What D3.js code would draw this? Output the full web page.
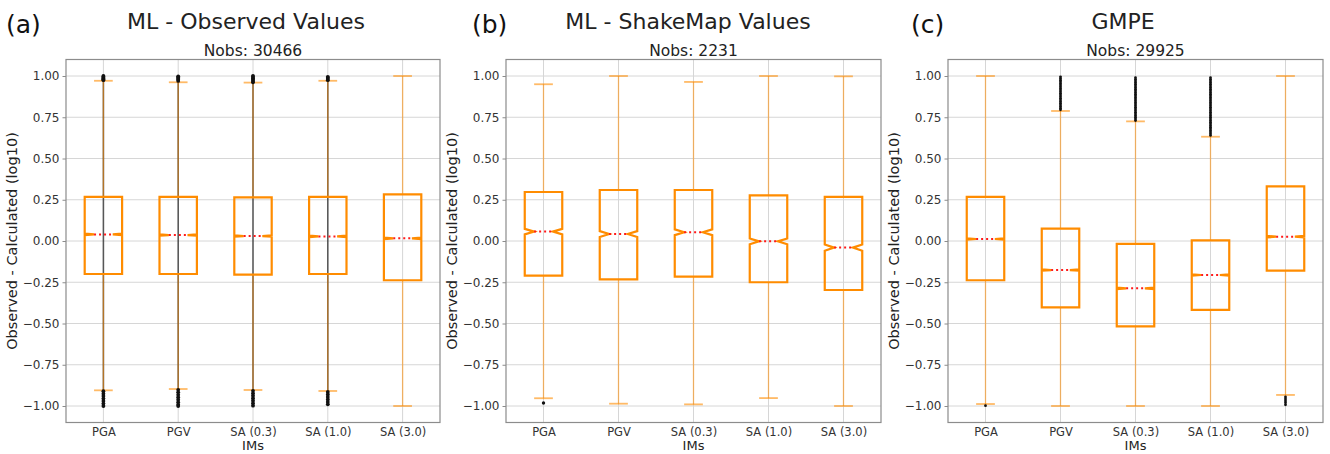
<!DOCTYPE html>
<html>
<head>
<meta charset="utf-8">
<script src="https://cdn.jsdelivr.net/npm/d3@7"></script>
<style>
  html, body { margin: 0; padding: 0; background: #fff; }
  svg { display: block; font-family: "DejaVu Sans", sans-serif; }
</style>
</head>
<body>
<svg id="chart" width="1330" height="454"></svg>
<script>
// Intensity measures on the x axis and y tick values
const categories = ["PGA", "PGV", "SA (0.3)", "SA (1.0)", "SA (3.0)"];
const yTicks = [-1.00, -0.75, -0.50, -0.25, 0.00, 0.25, 0.50, 0.75, 1.00];

// (a) ML - Observed Values
const obsN = 30466;
const obsQ1 = [-0.200, -0.200, -0.204, -0.200, -0.238];
const obsMed = [0.040, 0.036, 0.030, 0.028, 0.016];
const obsQ3 = [0.268, 0.268, 0.265, 0.268, 0.283];
const obsWhiskLo = [-0.905, -0.897, -0.903, -0.909, -1.000];
const obsWhiskHi = [0.971, 0.962, 0.960, 0.971, 1.000];
const obsFliers = [
  [0.975, 0.980, 0.985, 0.990, 0.995, 1.000, -0.910, -0.925, -0.940, -0.955, -0.970, -0.985, -1.000],
  [0.970, 0.977, 0.984, 0.991, 0.998, -0.902, -0.917, -0.932, -0.947, -0.962, -0.977, -0.992, -1.000],
  [0.962, 0.970, 0.978, 0.986, 0.994, 1.000, -0.908, -0.923, -0.938, -0.953, -0.968, -0.983, -0.998],
  [0.975, 0.982, 0.989, 0.995, -0.915, -0.930, -0.945, -0.960, -0.975, -0.990],
  []
];
// full spread of the individual residuals (dark trace behind the boxes)
const obsSpanLo = [-1.000, -1.000, -1.000, -0.990, null];
const obsSpanHi = [1.000, 1.000, 1.000, 0.995, null];

// (b) ML - ShakeMap Values
const smN = 2231;
const smQ1 = [-0.210, -0.232, -0.216, -0.250, -0.297];
const smMed = [0.057, 0.042, 0.053, -0.002, -0.040];
const smQ3 = [0.297, 0.309, 0.309, 0.277, 0.267];
const smWhiskLo = [-0.953, -0.986, -0.990, -0.952, -1.000];
const smWhiskHi = [0.950, 1.000, 0.964, 1.000, 0.998];
const smFliers = [[-0.982], [], [], [], []];

// (c) GMPE
const gmN = 29925;
const gmQ1 = [-0.238, -0.402, -0.517, -0.418, -0.180];
const gmMed = [0.012, -0.176, -0.287, -0.206, 0.026];
const gmQ3 = [0.267, 0.075, -0.018, 0.004, 0.331];
const gmWhiskLo = [-0.988, -1.000, -1.000, -1.000, -0.933];
const gmWhiskHi = [1.000, 0.788, 0.725, 0.632, 1.000];
const gmFliers = [
  [-0.998],
  [0.795, 0.805, 0.815, 0.825, 0.835, 0.845, 0.855, 0.865, 0.875, 0.885, 0.895, 0.905,
   0.915, 0.925, 0.935, 0.945, 0.955, 0.965, 0.975, 0.985, 0.995],
  [0.730, 0.740, 0.750, 0.760, 0.770, 0.780, 0.790, 0.800, 0.810, 0.820, 0.830, 0.840,
   0.850, 0.860, 0.870, 0.880, 0.890, 0.900, 0.910, 0.920, 0.930, 0.940, 0.950, 0.960,
   0.970, 0.980, 0.990],
  [0.640, 0.650, 0.660, 0.670, 0.680, 0.690, 0.700, 0.710, 0.720, 0.730, 0.740, 0.750,
   0.760, 0.770, 0.780, 0.790, 0.800, 0.810, 0.820, 0.830, 0.840, 0.850, 0.860, 0.870,
   0.880, 0.890, 0.900, 0.910, 0.920, 0.930, 0.940, 0.950, 0.960, 0.970, 0.980, 0.990],
  [-0.945, -0.957, -0.969, -0.981, -0.993]
];

const panels = [
  { tag: "(a)", title: "ML - Observed Values", n: obsN, q1: obsQ1, med: obsMed, q3: obsQ3,
    lo: obsWhiskLo, hi: obsWhiskHi, fliers: obsFliers, spanLo: obsSpanLo, spanHi: obsSpanHi,
    left: 66, right: 440, tagX: 6, titleX: 246, dot: 1.9 },
  { tag: "(b)", title: "ML - ShakeMap Values", n: smN, q1: smQ1, med: smMed, q3: smQ3,
    lo: smWhiskLo, hi: smWhiskHi, fliers: smFliers, spanLo: null, spanHi: null,
    left: 506, right: 881, tagX: 472, titleX: 688, dot: 1.7 },
  { tag: "(c)", title: "GMPE", n: gmN, q1: gmQ1, med: gmMed, q3: gmQ3,
    lo: gmWhiskLo, hi: gmWhiskHi, fliers: gmFliers, spanLo: null, spanHi: null,
    left: 948, right: 1323, tagX: 911, titleX: 1123, dot: 1.4 }
];

const plotTop = 59.5, plotBottom = 422.5;
const boxColor = "#ff8c00";
const svg = d3.select("#chart");

panels.forEach(p => {
  const W = p.right - p.left, H = plotBottom - plotTop;
  const x = d3.scalePoint().domain(categories).range([0, W]).padding(0.5);
  const y = d3.scaleLinear().domain([-1.1, 1.1]).range([H, 0]);
  const step = x.step();
  const bw = step * 0.5;       // box width
  const cw = bw * 0.5;         // cap width

  // panel label, title and observation count
  svg.append("text").attr("x", p.tagX).attr("y", 33)
    .attr("font-size", 25).attr("fill", "#111").text(p.tag);
  svg.append("text").attr("x", p.titleX).attr("y", 29).attr("text-anchor", "middle")
    .attr("font-size", 22).attr("fill", "#222").text(p.title);
  svg.append("text").attr("x", (p.left + p.right) / 2).attr("y", 56).attr("text-anchor", "middle")
    .attr("font-size", 15.5).attr("fill", "#222").text("Nobs: " + p.n);

  const g = svg.append("g").attr("transform", `translate(${p.left},${plotTop})`);

  // grid
  g.append("g").selectAll("line").data(yTicks).join("line")
    .attr("x1", 0).attr("x2", W).attr("y1", d => y(d)).attr("y2", d => y(d))
    .attr("stroke", "#d6d6d6").attr("stroke-width", 1);
  g.append("g").selectAll("line").data(categories).join("line")
    .attr("x1", d => x(d)).attr("x2", d => x(d)).attr("y1", 0).attr("y2", H)
    .attr("stroke", "#d6d6d6").attr("stroke-width", 1);

  const items = categories.map((c, i) => ({
    c, q1: p.q1[i], med: p.med[i], q3: p.q3[i], lo: p.lo[i], hi: p.hi[i],
    fl: p.fliers[i],
    sLo: p.spanLo ? p.spanLo[i] : null, sHi: p.spanHi ? p.spanHi[i] : null
  }));

  // dark trace of individual residuals
  g.append("g").selectAll("line").data(items.filter(d => d.sLo !== null)).join("line")
    .attr("x1", d => x(d.c)).attr("x2", d => x(d.c))
    .attr("y1", d => y(d.sLo)).attr("y2", d => y(d.sHi))
    .attr("stroke", "#000").attr("stroke-opacity", 0.6).attr("stroke-width", 1.6);

  // whiskers
  const wg = g.append("g").attr("stroke", boxColor).attr("stroke-opacity", 0.55).attr("stroke-width", 1.3);
  wg.selectAll(".wl").data(items).join("line").attr("class", "wl")
    .attr("x1", d => x(d.c)).attr("x2", d => x(d.c)).attr("y1", d => y(d.q1)).attr("y2", d => y(d.lo));
  wg.selectAll(".wh").data(items).join("line").attr("class", "wh")
    .attr("x1", d => x(d.c)).attr("x2", d => x(d.c)).attr("y1", d => y(d.q3)).attr("y2", d => y(d.hi));
  // caps
  const cg = g.append("g").attr("stroke", boxColor).attr("stroke-opacity", 0.6).attr("stroke-width", 1.8);
  cg.selectAll(".cl").data(items).join("line").attr("class", "cl")
    .attr("x1", d => x(d.c) - cw / 2).attr("x2", d => x(d.c) + cw / 2)
    .attr("y1", d => y(d.lo)).attr("y2", d => y(d.lo));
  cg.selectAll(".ch").data(items).join("line").attr("class", "ch")
    .attr("x1", d => x(d.c) - cw / 2).attr("x2", d => x(d.c) + cw / 2)
    .attr("y1", d => y(d.hi)).attr("y2", d => y(d.hi));

  // notched boxes (notch = median ± 1.57·IQR/√n)
  const notch = d => 1.57 * (d.q3 - d.q1) / Math.sqrt(p.n);
  g.append("g").selectAll("path").data(items).join("path")
    .attr("d", d => {
      const cx = x(d.c), l = cx - bw / 2, r = cx + bw / 2, nl = cx - bw / 4, nr = cx + bw / 4;
      const nk = notch(d);
      return `M${l},${y(d.q1)}L${l},${y(d.med - nk)}L${nl},${y(d.med)}L${l},${y(d.med + nk)}` +
             `L${l},${y(d.q3)}L${r},${y(d.q3)}L${r},${y(d.med + nk)}L${nr},${y(d.med)}` +
             `L${r},${y(d.med - nk)}L${r},${y(d.q1)}Z`;
    })
    .attr("fill", "none").attr("stroke", boxColor).attr("stroke-width", 2.2)
    .attr("stroke-linejoin", "miter");

  // medians
  g.append("g").selectAll("line").data(items).join("line")
    .attr("x1", d => x(d.c) - bw / 4).attr("x2", d => x(d.c) + bw / 4)
    .attr("y1", d => y(d.med)).attr("y2", d => y(d.med))
    .attr("stroke", "#ff1a1a").attr("stroke-width", 2).attr("stroke-dasharray", "2,3");

  // fliers
  const fl = items.flatMap(d => d.fl.map(v => ({ c: d.c, v })));
  g.append("g").selectAll("circle").data(fl).join("circle")
    .attr("cx", d => x(d.c)).attr("cy", d => y(d.v)).attr("r", p.dot).attr("fill", "#111");

  // frame
  g.append("rect").attr("width", W).attr("height", H)
    .attr("fill", "none").attr("stroke", "#8c8c8c").attr("stroke-width", 1.2);

  // axes
  const ya = g.append("g").call(d3.axisLeft(y).tickValues(yTicks).tickFormat(d3.format(".2f"))
    .tickSize(3.5).tickPadding(3));
  ya.select(".domain").remove();
  ya.selectAll("line").attr("stroke", "#8c8c8c");
  ya.selectAll("text").attr("font-size", 12).attr("fill", "#333").attr("font-family", "DejaVu Sans");

  const xa = g.append("g").attr("transform", `translate(0,${H})`)
    .call(d3.axisBottom(x).tickSize(0).tickPadding(5));
  xa.select(".domain").remove();
  xa.selectAll("text").attr("font-size", 11.5).attr("fill", "#333").attr("font-family", "DejaVu Sans");

  // axis titles
  svg.append("text").attr("transform", `translate(${p.left - 49},${(plotTop + plotBottom) / 2}) rotate(-90)`)
    .attr("text-anchor", "middle").attr("font-size", 14.5).attr("fill", "#222")
    .text("Observed - Calculated (log10)");
  svg.append("text").attr("x", (p.left + p.right) / 2).attr("y", 450)
    .attr("text-anchor", "middle").attr("font-size", 13).attr("fill", "#222").text("IMs");
});
</script>
</body>
</html>
